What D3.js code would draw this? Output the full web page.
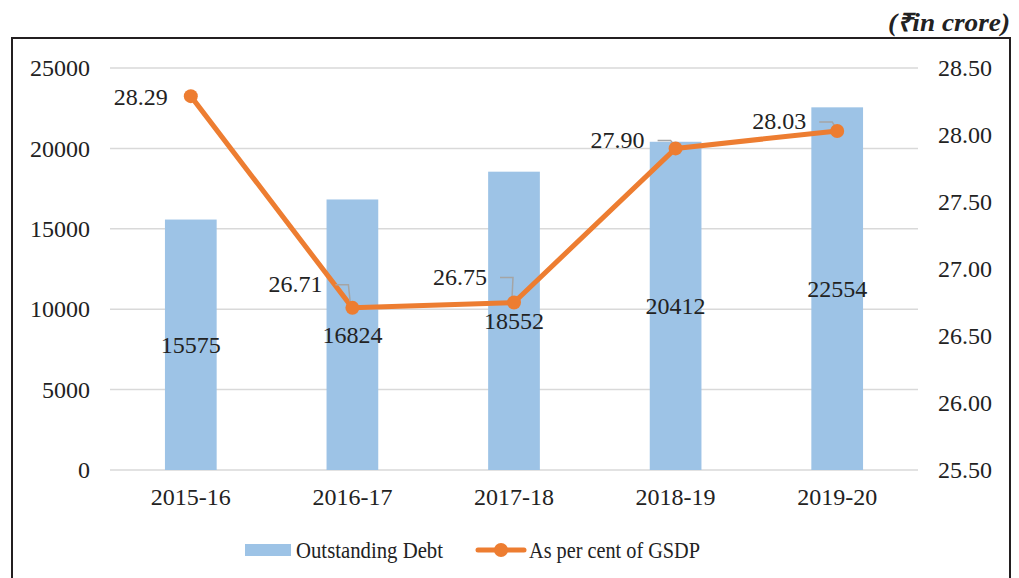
<!DOCTYPE html>
<html><head><meta charset="utf-8">
<script src="https://cdn.jsdelivr.net/npm/d3@7"></script>
</head><body style="margin:0;background:#fff"><svg id="c" width="1019" height="578" font-family="Liberation Serif"></svg>
<script>
const categories = ["2015-16","2016-17","2017-18","2018-19","2019-20"];
const debt = [15575,16824,18552,20412,22554];
const pctGSDP = [28.29,26.71,26.75,27.90,28.03];
const leftTicks = [0,5000,10000,15000,20000,25000];
const rightTicks = [25.5,26.0,26.5,27.0,27.5,28.0,28.5];

const FF="Liberation Serif";
const FS=24;
const svg = d3.select("#c");
const m={l:110,r:918,t:68,b:470};
svg.append("rect").attr("x",12).attr("y",38).attr("width",998).attr("height",560)
  .attr("fill","none").attr("stroke","#231f20").attr("stroke-width",2);
svg.append("text").attr("x",1010).attr("y",31).attr("text-anchor","end").attr("font-family",FF)
  .attr("font-size",25).attr("font-weight","bold").attr("font-style","italic").attr("fill","#222")
  .attr("textLength",122).attr("lengthAdjust","spacingAndGlyphs")
  .text("(₹in crore)");

const x=d3.scaleBand().domain(categories).range([m.l,m.r]).paddingInner(0.68).paddingOuter(0.34);
const yL=d3.scaleLinear().domain([0,25000]).range([m.b,m.t]);
const yR=d3.scaleLinear().domain([25.5,28.5]).range([m.b,m.t]);

svg.append("g").selectAll("line").data(leftTicks).join("line")
  .attr("x1",m.l).attr("x2",m.r).attr("y1",d=>yL(d)).attr("y2",d=>yL(d))
  .attr("stroke","#d9d9d9").attr("stroke-width",1.5);

const axL=d3.axisLeft(yL).tickValues(leftTicks).tickFormat(d3.format("d")).tickSize(0).tickPadding(20);
const gL=svg.append("g").attr("transform",`translate(${m.l},0)`).call(axL);
const axR=d3.axisRight(yR).tickValues(rightTicks).tickFormat(d3.format(".2f")).tickSize(0).tickPadding(20);
const gR=svg.append("g").attr("transform",`translate(${m.r},0)`).call(axR);
const axB=d3.axisBottom(x).tickSize(0).tickPadding(18);
const gB=svg.append("g").attr("transform",`translate(0,${m.b})`).call(axB);
[gL,gR,gB].forEach(g=>{g.attr("font-family",FF).attr("font-size",FS);g.select(".domain").remove();
  g.selectAll("text").attr("font-family",FF).attr("font-size",FS).attr("fill","#222");});

svg.append("g").selectAll("rect").data(debt).join("rect")
  .attr("x",(d,i)=>x(categories[i])).attr("width",x.bandwidth())
  .attr("y",d=>yL(d)).attr("height",d=>yL(0)-yL(d)).attr("fill","#9dc3e6");

const pts=pctGSDP.map((v,i)=>[x(categories[i])+x.bandwidth()/2,yR(v)]);
svg.append("path").datum(pts).attr("d",d3.line()).attr("fill","none")
  .attr("stroke","#ed7d31").attr("stroke-width",5).attr("stroke-linejoin","round");

svg.append("g").selectAll("text").data(debt).join("text")
  .attr("x",(d,i)=>x(categories[i])+x.bandwidth()/2).attr("y",d=>(yL(d)+yL(0))/2)
  .attr("dy","0.35em").attr("text-anchor","middle").attr("font-family",FF).attr("font-size",FS).attr("fill","#222").text(d=>d);

const lbl=[{dx:-23,dy:0,lead:false},{dx:-30,dy:-24,lead:true},{dx:-27,dy:-26,lead:true},{dx:-31,dy:-9,lead:true},{dx:-31,dy:-10,lead:true}];
pts.forEach((p,i)=>{
  const o=lbl[i];
  if(o.lead){
    const ly=p[1]+o.dy+1;
    svg.append("polyline").attr("points",`${p[0]+o.dx+13},${ly} ${p[0]+o.dx+26},${ly} ${p[0]-2},${p[1]-4}`)
      .attr("fill","none").attr("stroke","#a5a5a5").attr("stroke-width",1.5);
  }
});
svg.append("g").selectAll("circle").data(pts).join("circle")
  .attr("cx",d=>d[0]).attr("cy",d=>d[1]).attr("r",7).attr("fill","#ed7d31");
svg.append("g").selectAll("text").data(pctGSDP).join("text")
  .attr("x",(d,i)=>pts[i][0]+lbl[i].dx).attr("y",(d,i)=>pts[i][1]+lbl[i].dy)
  .attr("dy","0.35em").attr("text-anchor","end").attr("font-family",FF).attr("font-size",FS).attr("fill","#222").text(d=>d.toFixed(2));

const lg=svg.append("g");
lg.append("rect").attr("x",245).attr("y",544).attr("width",46).attr("height",12).attr("fill","#9dc3e6");
lg.append("text").attr("x",296).attr("y",550).attr("dy","0.35em").attr("font-family",FF).attr("font-size",23).attr("fill","#222")
  .attr("textLength",147).attr("lengthAdjust","spacingAndGlyphs").text("Outstanding Debt");
lg.append("line").attr("x1",478).attr("x2",524).attr("y1",550).attr("y2",550).attr("stroke","#ed7d31").attr("stroke-width",5).attr("stroke-linecap","round");
lg.append("circle").attr("cx",501).attr("cy",550).attr("r",7).attr("fill","#ed7d31");
lg.append("text").attr("x",529).attr("y",550).attr("dy","0.35em").attr("font-family",FF).attr("font-size",23).attr("fill","#222")
  .attr("textLength",171).attr("lengthAdjust","spacingAndGlyphs").text("As per cent of GSDP");
</script></body></html>
